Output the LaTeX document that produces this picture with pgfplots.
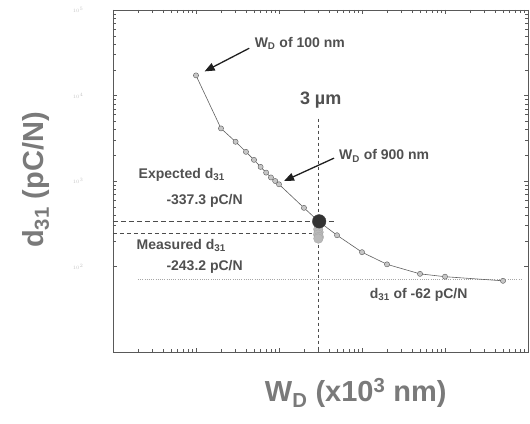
\documentclass[border=0pt]{standalone}
\usepackage{pgfplots}
\pgfplotsset{compat=1.18}
\usepackage{fontspec}
\setmainfont{Liberation Sans}
\usetikzlibrary{calc,arrows.meta}
\definecolor{txt}{HTML}{505050}
\definecolor{lab}{HTML}{7A7A7A}
\definecolor{crv}{HTML}{606060}
\begin{document}
\begin{tikzpicture}
\begin{axis}[name=ax,
  xmode=log, ymode=log,
  scale only axis, width=415pt, height=342pt,
  xmin=0.01, xmax=1000, ymin=10, ymax=1e5,
  clip=false,
  axis line style={gray!70!black, line width=0.6pt},
  tick style={gray!70!black, line width=0.4pt},
  xtick={0.01,0.1,1,10,100,1000},
  xticklabels={,,,,,,},
  ytick={100,1000,10000,100000},
  yticklabel style={font=\fontsize{5}{6}\selectfont, text=gray!45, xshift=-26pt},
]
% reference lines
\addplot[gray!60!black, line width=0.7pt, dash pattern=on 5pt off 3pt] coordinates {(0.01,337.3) (4.93,337.3)};
\addplot[gray!60!black, line width=0.7pt, dash pattern=on 4pt off 3pt] coordinates {(0.01,243.2) (2.48,243.2)};
\addplot[gray!60!black, line width=0.7pt, dash pattern=on 3pt off 3pt] coordinates {(3,5360) (3,10)};
\addplot[gray!70, line width=0.5pt, dash pattern=on 1pt off 1.2pt] coordinates {(0.020,70) (845,70)};
% curve
\addplot[crv, line width=0.6pt, mark=*, mark size=2.6pt,
  mark options={fill=gray!45, draw=gray!70!black, line width=0.4pt}] coordinates {
(0.1,17180) (0.2,4120) (0.3,2876) (0.4,2193) (0.5,1766) (0.6,1462)
(0.7,1253) (0.8,1100) (0.9,1000) (1.0,915) (2,485) (3,337.3)
(5,232) (10,147) (20,106) (50,82) (100,76) (500,68)};
% measured cluster
\addplot[only marks, mark=*, mark size=4.8pt,
  mark options={fill=gray!55, draw=gray!70, line width=0.3pt}] coordinates {
(2.97,272) (3.0,252) (2.96,236) (3.02,222) (2.98,212)};
% expected point
\addplot[only marks, mark=*, mark size=6.8pt,
  mark options={fill=gray!40!black, draw=gray!50!black}] coordinates {(3.05,337.3)};
% annotations
\draw[-{Triangle[length=10pt,width=8pt]}, gray!25!black, line width=1.3pt]
  (axis cs:0.438,35700) -- (axis cs:0.127,19150);
\node[anchor=west, text=txt, font=\bfseries\fontsize{14}{16}\selectfont]
  at (axis cs:0.463,40900) {W\textsubscript{D} of 100 nm};
\draw[-{Triangle[length=10pt,width=8pt]}, gray!25!black, line width=1.3pt]
  (axis cs:4.6,1850) -- (axis cs:1.15,1000);
\node[anchor=west, text=txt, font=\bfseries\fontsize{14}{16}\selectfont]
  at (axis cs:4.8,1967) {W\textsubscript{D} of 900 nm};
\node[text=txt, font=\bfseries\fontsize{18}{20}\selectfont]
  at (axis cs:3.18,8730) {3 µm};
\node[anchor=west, text=txt, font=\bfseries\fontsize{14}{16}\selectfont]
  at (axis cs:0.0185,1178) {Expected d\textsubscript{31}};
\node[anchor=west, text=txt, font=\bfseries\fontsize{14}{16}\selectfont]
  at (axis cs:0.040,582) {-337.3 pC/N};
\node[anchor=west, text=txt, font=\bfseries\fontsize{14}{16}\selectfont]
  at (axis cs:0.0175,176) {Measured d\textsubscript{31}};
\node[anchor=west, text=txt, font=\bfseries\fontsize{14}{16}\selectfont]
  at (axis cs:0.040,100) {-243.2 pC/N};
\node[anchor=west, text=txt, font=\bfseries\fontsize{14}{16}\selectfont]
  at (axis cs:11.25,46.9) {d\textsubscript{31} of -62 pC/N};
% axis labels
\node[text=lab, font=\bfseries\fontsize{29}{32}\selectfont]
  at (rel axis cs:0.585,-0.12) {W\textsubscript{D} (x10\textsuperscript{3} nm)};
\node[text=lab, rotate=90, font=\bfseries\fontsize{29}{32}\selectfont]
  at (rel axis cs:-0.186,0.503) {d\textsubscript{31} (pC/N)};
\end{axis}
\pgfresetboundingbox
\path[use as bounding box] ($(ax.south west)+(-113pt,-72pt)$) rectangle ($(ax.north east)+(2pt,10pt)$);
\end{tikzpicture}
\end{document}
